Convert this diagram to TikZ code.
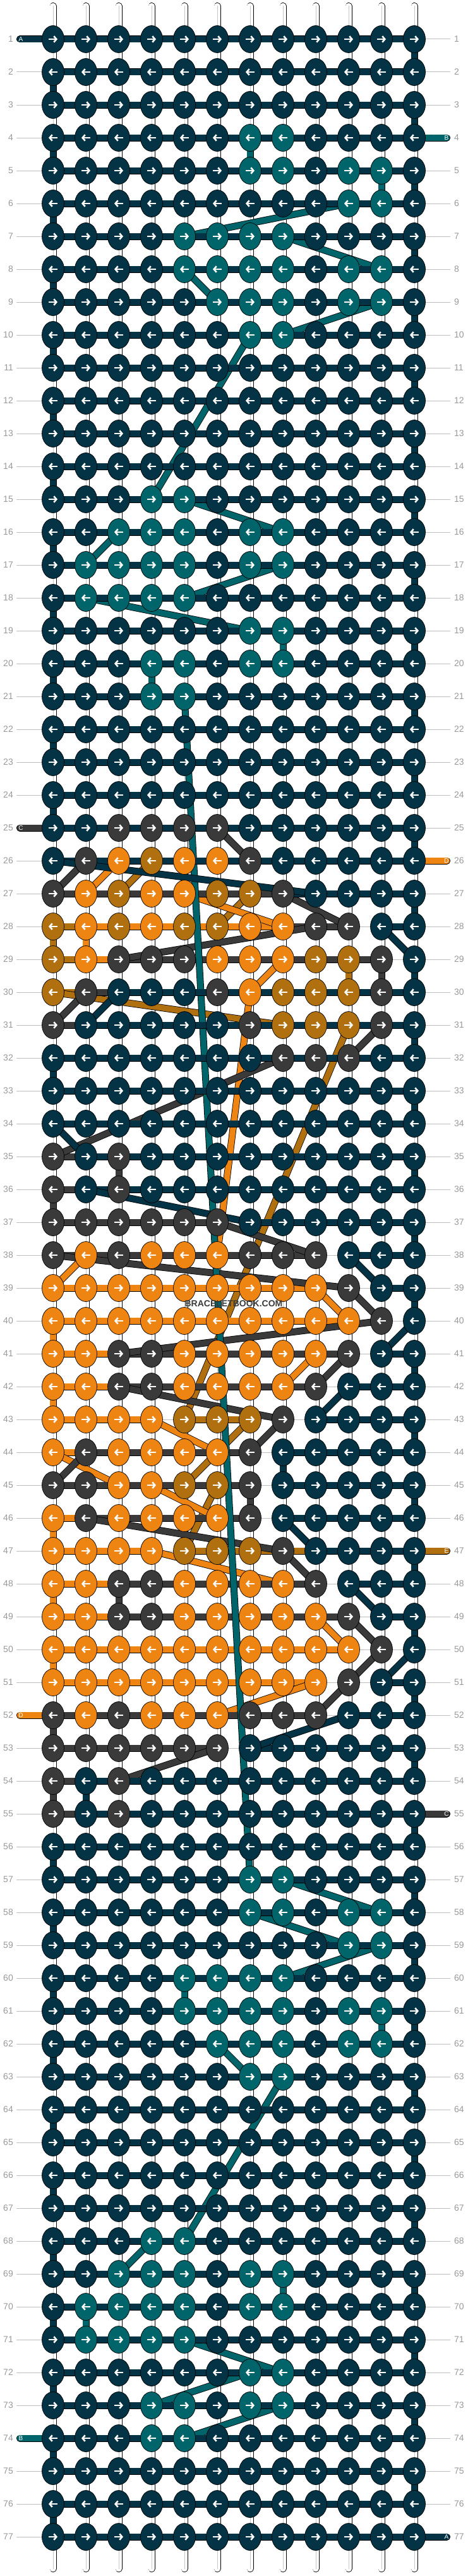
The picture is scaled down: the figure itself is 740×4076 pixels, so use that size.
\documentclass[tikz,border=0pt]{standalone}
\usepackage{fontspec}
\setmainfont{Liberation Sans}
\usetikzlibrary{arrows.meta,backgrounds,shapes.geometric}
\definecolor{cn}{HTML}{033345}
\definecolor{ct}{HTML}{00656A}
\definecolor{cg}{HTML}{3A3A3A}
\definecolor{co}{HTML}{EE8412}
\definecolor{cb}{HTML}{B07010}
\tikzset{
  knot/.style={draw=black, ellipse, line width=0.7pt, inner sep=0pt, minimum width=35pt, minimum height=43pt},
  knotarrow/.style={draw=white, line width=2.6pt, -{Straight Barb[length=4pt,width=9.5pt]}},
  strand/.style={draw=black, line width=0.8pt, double=#1, double distance=9.4pt},
  midline/.style={draw=black!22, line width=1pt},
  rowline/.style={draw=black!25, line width=1pt},
  rowlabel/.style={text=black!40, inner sep=0pt, font=\fontsize{14}{14}\selectfont},
  tag/.style={text=white, inner sep=0pt, font=\fontsize{10}{10}\selectfont}
}
\newcounter{knotcol}
\newcommand{\putknot}[1]{%
  \node[knot, fill=c#1] (k-\row-\theknotcol) at ({84+52*\theknotcol},{10+52*\row}) {};
  \ifodd\row\relax
    \draw[knotarrow] ([xshift=-7pt]k-\row-\theknotcol.center) -- ([xshift=7pt]k-\row-\theknotcol.center);
  \else
    \draw[knotarrow] ([xshift=7pt]k-\row-\theknotcol.center) -- ([xshift=-7pt]k-\row-\theknotcol.center);
  \fi}
\def\scanknots#1{\ifx#1.\else\putknot{#1}\stepcounter{knotcol}\expandafter\scanknots\fi}
\begin{document}
\begin{tikzpicture}[x=1pt, y=-1pt]
  \useasboundingbox (0,0) rectangle (740,4076);

  \foreach \row/\knots in {
    1/nnnnnnnnnnnn, 2/nnnnnnnnnnnn, 3/nnnnnnnnnnnn, 4/nnnnnnttnnnn, 5/nnnnnnttnttn, 6/nnnnnnnnnttn,
    7/nnnnttttnnnn, 8/nnnnttttnttn, 9/nnnnntttnttn, 10/nnnnnnttnnnn, 11/nnnnnnnnnnnn, 12/nnnnnnnnnnnn,
    13/nnnnnnnnnnnn, 14/nnnnnnnnnnnn, 15/nnnttnnnnnnn, 16/nntttnttnnnn, 17/nttttnttnnnn, 18/nttttnnnnnnn,
    19/nnnnnnttnnnn, 20/nnnttnttnnnn, 21/nnnttnnnnnnn, 22/nnnnnnnnnnnn, 23/nnnnnnnnnnnn, 24/nnnnnnnnnnnn,
    25/nnggggnnnnnn, 26/ngoboognnnnn, 27/goboobbgnnnn, 28/bobobbooggnn, 29/bogggooobbgn, 30/bgnnngobbbgn,
    31/gnnnnngbbbgn, 32/nnnnnnngggnn, 33/nnnnnnnnnnnn, 34/nnnnnnnnnnnn, 35/gngnnnnnnnnn, 36/gngnnnnnnnnn,
    37/ggggggnnnnnn, 38/gogooogggnnn, 39/ooooooooognn, 40/oooooooooogn, 41/ooggooooognn, 42/ooggoooognnn,
    43/oooobbbgnnnn, 44/ogoooognnnnn, 45/ggoobbgnnnnn, 46/ogoooognnnnn, 47/oooobbbgnnnn, 48/ooggoooognnn,
    49/ooggooooognn, 50/oooooooooogn, 51/ooooooooognn, 52/gogooogggnnn, 53/ggggggnnnnnn, 54/gngnnnnnnnnn,
    55/gngnnnnnnnnn, 56/nnnnnnnnnnnn, 57/nnnnnnttnnnn, 58/nnnnnnttnttn, 59/nnnnnnnnnttn, 60/nnnnttttnnnn,
    61/nnnnttttnttn, 62/nnnnntttnttn, 63/nnnnnnttnnnn, 64/nnnnnnnnnnnn, 65/nnnnnnnnnnnn, 66/nnnnnnnnnnnn,
    67/nnnnnnnnnnnn, 68/nnnttnnnnnnn, 69/nntttnttnnnn, 70/nttttnttnnnn, 71/nttttnnnnnnn, 72/nnnnnnttnnnn,
    73/nnnttnttnnnn, 74/nnnttnnnnnnn, 75/nnnnnnnnnnnn, 76/nnnnnnnnnnnn, 77/nnnnnnnnnnnn} {
    \setcounter{knotcol}{0}
    \expandafter\scanknots\knots.
    \coordinate (l-\row) at (26,{10+52*\row});
    \coordinate (e-\row) at (713,{10+52*\row});
    \node[rowlabel, anchor=east] (ln-\row) at (21,{10+52*\row}) {\row};
    \node[rowlabel, anchor=west] (rn-\row) at (719,{10+52*\row}) {\row};
  }
  \foreach \col in {0,...,11} {
    \coordinate (t-\col) at ({84+52*\col},9.5);
    \coordinate (u-\col) at ({84+52*\col},4064.5);
  }
  \node[text=cg, inner sep=0pt, font=\bfseries\fontsize{14}{14}\selectfont] (mark) at (370,2063) {BRACELETBOOK.COM};

  \begin{pgfonlayer}{background}
    \foreach \col in {0,...,11} {
      \draw[strand=white, line cap=round] (t-\col) -- (u-\col);
      \draw[midline] (t-\col) -- (u-\col);
    }
    \foreach \row in {1,...,77}
      \draw[rowline] (l-\row) -- (e-\row);

    \foreach \ra/\ca/\rb/\cb in {
      28/0/28/1, 29/0/29/1, 30/0/30/1, 43/4/43/6, 47/4/47/8, 28/0/29/0, 29/9/30/9,
      26/3/27/2, 28/5/27/6, 30/0/31/7, 31/9/43/4, 43/6/44/5, 44/5/45/4, 45/5/47/4}
      \draw[strand=cb] (k-\ra-\ca.center) -- (k-\rb-\cb.center);

    \foreach \ra/\ca/\rb/\cb in {
      28/1/28/7, 29/1/29/2, 39/0/39/8, 40/0/40/9, 41/0/41/2, 42/0/42/2, 43/0/43/3, 44/0/44/1,
      46/0/46/1, 47/0/47/3, 48/0/48/2, 49/0/49/2, 50/0/50/9, 51/0/51/8,
      28/1/29/1, 40/0/41/0, 42/0/43/0, 46/0/47/0, 48/0/49/0, 50/0/51/0,
      26/2/27/1, 27/4/28/7, 30/6/29/7, 30/6/38/5, 38/1/39/0, 39/8/40/9, 41/8/42/7,
      43/3/44/5, 44/0/45/2, 45/3/46/5, 47/3/48/7, 49/8/50/9, 51/8/52/5}
      \draw[strand=co] (k-\ra-\ca.center) -- (k-\rb-\cb.center);

    \foreach \ra/\ca/\rb/\cb in {
      27/0/27/7, 28/7/28/9, 29/2/29/10, 30/1/30/2, 31/0/31/1, 35/0/35/1, 36/0/36/1, 37/0/37/5,
      38/0/38/8, 41/2/41/9, 42/2/42/8, 44/1/44/6, 45/0/45/6, 46/1/46/6, 48/2/48/8, 49/2/49/9,
      52/0/52/8, 53/0/53/5, 54/0/54/1, 55/0/55/1,
      29/10/30/10, 35/2/36/2, 36/0/37/0, 45/6/46/6, 48/2/49/2, 52/0/53/0, 54/0/55/0,
      25/5/26/6, 26/1/27/0, 27/7/28/9, 28/8/29/2, 30/1/31/0, 31/10/32/9, 32/7/35/0, 37/5/38/8,
      38/0/39/9, 39/9/40/10, 40/10/41/2, 41/9/42/8, 42/2/43/7, 43/7/44/6, 44/1/45/0, 46/1/47/7,
      47/7/48/8, 49/9/50/10, 50/10/51/9, 51/9/52/8, 53/5/54/2}
      \draw[strand=cg] (k-\ra-\ca.center) -- (k-\rb-\cb.center);

    \foreach \ra/\ca/\rb/\cb in {
      4/6/5/6, 5/10/6/10, 19/7/20/7, 20/3/21/3, 60/4/61/4, 61/10/62/10, 69/7/70/7, 70/1/71/1,
      6/9/7/4, 7/7/8/10, 8/4/9/5, 9/10/10/7, 10/6/15/3, 15/4/16/7, 16/2/17/1, 17/7/18/4, 18/1/19/6,
      21/4/57/6, 57/7/58/10, 58/6/59/9, 59/10/60/7, 62/5/63/6, 63/7/68/4, 68/3/69/2,
      71/4/72/7, 72/6/73/3, 73/7/74/4}
      \draw[strand=ct] (k-\ra-\ca.center) -- (k-\rb-\cb.center);

    \foreach \row in {1,...,26}
      \draw[strand=cn] (k-\row-0.center) -- (k-\row-11.center);
    \foreach \row in {56,...,77}
      \draw[strand=cn] (k-\row-0.center) -- (k-\row-11.center);
    \foreach \row in {2,4,...,24}
      \draw[strand=cn] (k-\row-0.center) -- (k-\the\numexpr\row+1\relax-0.center);
    \foreach \row in {56,58,...,76}
      \draw[strand=cn] (k-\row-0.center) -- (k-\the\numexpr\row+1\relax-0.center);
    \foreach \row in {1,3,...,75}
      \draw[strand=cn] (k-\row-11.center) -- (k-\the\numexpr\row+1\relax-11.center);
    \foreach \ra/\ca/\rb/\cb in {
      27/7/27/11, 28/10/28/11, 30/2/30/11, 31/1/31/11, 32/0/32/11, 33/0/33/11, 34/0/34/11,
      35/1/35/11, 36/1/36/11, 37/6/37/11, 38/9/38/11, 39/10/39/11, 41/10/41/11, 42/9/42/11,
      43/8/43/11, 44/7/44/11, 45/7/45/11, 46/7/46/11, 47/8/47/11, 48/9/48/11, 49/10/49/11,
      51/10/51/11, 52/9/52/11, 53/6/53/11, 54/1/54/11, 55/1/55/11,
      32/0/33/0, 44/7/45/7, 54/1/55/1,
      26/0/27/8, 28/10/29/11, 30/2/31/1, 34/0/35/1, 36/1/37/6, 38/9/39/10, 40/11/41/10,
      42/9/43/8, 46/7/47/8, 48/9/49/10, 50/11/51/10, 52/9/53/6}
      \draw[strand=cn] (k-\ra-\ca.center) -- (k-\rb-\cb.center);

    \foreach \row/\tint in {1/cn, 25/cg, 52/co, 74/ct}
      \draw[strand=\tint, line cap=round] ([xshift=5.5pt]l-\row) -- (k-\row-0.center);
    \foreach \row/\tint in {4/ct, 26/co, 47/cb, 55/cg, 77/cn}
      \draw[strand=\tint, line cap=round] ([xshift=-5.5pt]e-\row) -- (k-\row-11.center);
  \end{pgfonlayer}

  \foreach \row/\name in {1/A, 25/C, 52/D, 74/B}
    \node[tag] (tl-\row) at (33,{10+52*\row}) {\name};
  \foreach \row/\name in {4/B, 26/D, 47/E, 55/C, 77/A}
    \node[tag] (tr-\row) at (707,{10+52*\row}) {\name};
\end{tikzpicture}
\end{document}
